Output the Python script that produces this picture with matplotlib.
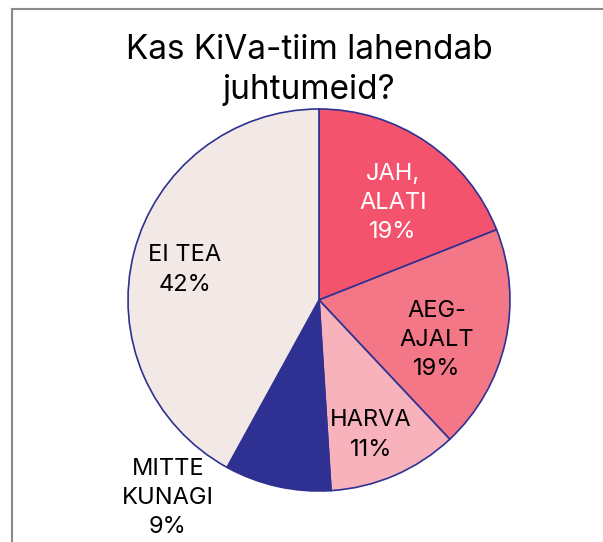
import matplotlib.pyplot as plt
from matplotlib.lines import Line2D

plt.rcParams['font.family'] = ['Inter', 'DejaVu Sans']

# andmed
categories = ['JAH,\nALATI', 'AEG-\nAJALT', 'HARVA', 'MITTE\nKUNAGI', 'EI TEA']
values = [19, 19, 11, 9, 42]
colors = ['#f4536d', '#f47787', '#f8b2bc', '#2e3192', '#f2e8e6']
text_colors = ['white', 'black', 'black', 'black', 'black']
# siltide kohad (piruka raadiuse ühikutes)
label_xy = [(0.387, 0.508), (0.618, -0.209), (0.272, -0.707), (-0.791, -1.037), (-0.702, 0.157)]

W, H = 603, 542
fig = plt.figure(figsize=(W / 100, H / 100), dpi=100)

# pirukas: keskpunkt (319, 300), raadius 191 px
cx, cy, r = 319, 300, 191
ax = fig.add_axes([(cx - r) / W, (H - cy - r) / H, 2 * r / W, 2 * r / H])
wedges, _ = ax.pie(values, colors=colors, startangle=90, counterclock=False,
                   radius=1, wedgeprops=dict(edgecolor='#2e3192', linewidth=1.2))
ax.set_xlim(-1, 1)
ax.set_ylim(-1, 1)
ax.set_aspect('equal')
ax.axis('off')

# sildid
for (x, y), cat, v, tc in zip(label_xy, categories, values, text_colors):
    ax.text(x, y, f'{cat}\n{v}%', ha='center', va='center', fontsize=17,
            color=tc, linespacing=1.42, clip_on=False)

# pealkiri
fig.text(309 / W, 1 - 34 / H, 'Kas KiVa-tiim lahendab\njuhtumeid?', ha='center', va='top',
         fontsize=24, linespacing=1.3)

# raam (üla- ja vasak serv)
fig.add_artist(Line2D([12 / W, 1], [1 - 9 / H, 1 - 9 / H], transform=fig.transFigure,
                      color='#8a8a8a', linewidth=1.5))
fig.add_artist(Line2D([12 / W, 12 / W], [0, 1 - 9 / H], transform=fig.transFigure,
                      color='#8a8a8a', linewidth=1.5))

fig.savefig('out.png', dpi=100)
